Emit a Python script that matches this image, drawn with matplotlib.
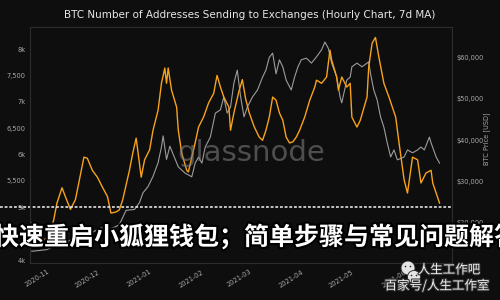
import matplotlib
matplotlib.use('Agg')
import matplotlib.pyplot as plt
import matplotlib.dates as mdates
import matplotlib.patheffects as pe
from matplotlib.patches import Ellipse
from matplotlib.ticker import FuncFormatter, MultipleLocator
import pandas as pd

# addresses sending to exchanges (7d MA)
addr_dates = ['2020-10-23', '2020-10-27', '2020-10-30', '2020-11-02', '2020-11-05', '2020-11-07',
              '2020-11-10', '2020-11-12', '2020-11-15', '2020-11-18', '2020-11-23', '2020-11-25',
              '2020-11-28', '2020-12-01', '2020-12-04', '2020-12-07', '2020-12-09', '2020-12-12',
              '2020-12-14', '2020-12-16', '2020-12-20', '2020-12-22', '2020-12-24', '2020-12-27',
              '2020-12-29', '2021-01-01', '2021-01-03', '2021-01-06', '2021-01-08', '2021-01-10',
              '2021-01-11', '2021-01-12', '2021-01-14', '2021-01-17', '2021-01-18', '2021-01-20',
              '2021-01-23', '2021-01-24', '2021-01-26', '2021-01-28', '2021-01-30', '2021-02-02',
              '2021-02-05', '2021-02-08', '2021-02-10', '2021-02-12', '2021-02-14', '2021-02-17',
              '2021-02-18', '2021-02-20', '2021-02-23', '2021-02-25', '2021-02-27', '2021-03-01',
              '2021-03-04', '2021-03-07', '2021-03-09', '2021-03-11', '2021-03-13', '2021-03-15',
              '2021-03-17', '2021-03-19', '2021-03-21', '2021-03-23', '2021-03-25', '2021-03-27',
              '2021-03-29', '2021-03-31', '2021-04-03', '2021-04-06', '2021-04-09', '2021-04-10',
              '2021-04-13', '2021-04-16', '2021-04-18', '2021-04-19', '2021-04-22', '2021-04-23',
              '2021-04-25', '2021-04-28', '2021-04-30', '2021-05-01', '2021-05-04', '2021-05-06',
              '2021-05-10', '2021-05-11', '2021-05-13', '2021-05-15', '2021-05-17', '2021-05-20',
              '2021-05-23', '2021-05-27', '2021-05-29', '2021-06-01', '2021-06-03', '2021-06-06',
              '2021-06-09', '2021-06-11', '2021-06-14', '2021-06-17', '2021-06-18', '2021-06-20',
              '2021-06-22']
addr_values = [4700, 4620, 4380, 4420, 4750, 5080,
               5370, 5200, 4960, 5150, 5950, 5930,
               5700, 5570, 5380, 5200, 4890, 4910,
               4950, 5140, 5700, 6030, 6310, 5570,
               5900, 6090, 6460, 6840, 7350, 7640,
               7350, 7640, 7220, 6900, 6460, 6030,
               5700, 5670, 5950, 6220, 6520, 6710,
               6980, 7160, 7500, 7280, 7090, 6900,
               6460, 6790, 7200, 7420, 7050, 6800,
               6530, 6330, 6270, 6460, 6710, 7090,
               7030, 6790, 6650, 6330, 6220, 6240,
               6330, 6460, 6710, 7030, 7280, 7410,
               7350, 7470, 7980, 7790, 7470, 7220,
               7470, 7280, 7350, 6710, 6520, 6650,
               7090, 7660, 8110, 8220, 7850, 7350,
               7090, 6710, 6220, 5520, 5270, 5950,
               5900, 5460, 5650, 5700, 5460, 5270,
               5080]

# BTC price (USD)
price_dates = ['2020-10-23', '2020-10-28', '2020-11-01', '2020-11-07', '2020-11-14', '2020-11-19',
               '2020-11-24', '2020-11-27', '2020-12-03', '2020-12-09', '2020-12-14', '2020-12-18',
               '2020-12-23', '2020-12-26', '2020-12-28', '2020-12-31', '2021-01-03', '2021-01-06',
               '2021-01-08', '2021-01-09', '2021-01-11', '2021-01-13', '2021-01-15', '2021-01-18',
               '2021-01-22', '2021-01-26', '2021-01-28', '2021-01-30', '2021-02-01', '2021-02-03',
               '2021-02-06', '2021-02-09', '2021-02-12', '2021-02-14', '2021-02-16', '2021-02-18',
               '2021-02-20', '2021-02-22', '2021-02-24', '2021-02-26', '2021-02-28', '2021-03-03',
               '2021-03-06', '2021-03-09', '2021-03-11', '2021-03-13', '2021-03-15', '2021-03-17',
               '2021-03-19', '2021-03-21', '2021-03-23', '2021-03-26', '2021-03-28', '2021-03-30',
               '2021-04-01', '2021-04-04', '2021-04-07', '2021-04-10', '2021-04-13', '2021-04-15',
               '2021-04-17', '2021-04-19', '2021-04-22', '2021-04-24', '2021-04-25', '2021-04-28',
               '2021-04-30', '2021-05-01', '2021-05-04', '2021-05-07', '2021-05-10', '2021-05-11',
               '2021-05-12', '2021-05-14', '2021-05-16', '2021-05-18', '2021-05-20', '2021-05-22',
               '2021-05-24', '2021-05-26', '2021-05-28', '2021-06-01', '2021-06-03', '2021-06-06',
               '2021-06-09', '2021-06-11', '2021-06-13', '2021-06-16', '2021-06-17', '2021-06-20',
               '2021-06-22']
price_values = [13100, 13300, 13500, 14600, 15600, 16800,
                18400, 17500, 18700, 18500, 19500, 23000,
                23200, 24900, 27200, 28700, 31200, 34500,
                38300, 41000, 35300, 38500, 36500, 33500,
                32000, 31100, 34400, 35900, 34400, 38300,
                40700, 46500, 47300, 50400, 46500, 48000,
                53800, 56900, 50400, 45600, 48000, 50400,
                52100, 55200, 56900, 60000, 61000, 56000,
                59400, 57700, 54500, 52100, 55200, 57700,
                59400, 59800, 58600, 60100, 61800, 63700,
                62200, 58600, 55200, 50400, 49000, 54500,
                55200, 57700, 58600, 57700, 58600, 58900,
                56200, 52100, 49700, 45600, 43100, 39300,
                35900, 37600, 35200, 35900, 37600, 36900,
                37600, 38300, 37600, 40700, 39300, 35900,
                34400]

title = 'BTC Number of Addresses Sending to Exchanges (Hourly Chart, 7d MA)'
overlay = '快速重启小狐狸钱包；简单步骤与常见问题解答'
threshold = 5000

BG = '#0e0e0e'
ORANGE = '#f7a21b'
GREY = '#9c9c9c'
TICK = '#a8a8a8'
CJK = ['Noto Sans CJK SC', 'DejaVu Sans']

fig = plt.figure(figsize=(5, 3), dpi=100, facecolor=BG)
ax = fig.add_axes([0.06, 0.1233, 0.844, 0.7867])
ax2 = ax.twinx()
ax.set_zorder(ax2.get_zorder() + 1)
ax.patch.set_visible(False)
ax2.set_facecolor(BG)

ax2.plot(pd.to_datetime(price_dates), price_values, color=GREY, lw=0.8)
ax.plot(pd.to_datetime(addr_dates), addr_values, color=ORANGE, lw=1.0)

ax.set_xlim(pd.Timestamp('2020-10-22'), pd.Timestamp('2021-06-29 10:00'))
ax.set_ylim(3943, 8418)
ax2.set_ylim(10250, 67330)

ax.yaxis.set_major_locator(MultipleLocator(500))
ax.yaxis.set_major_formatter(FuncFormatter(
    lambda v, p: f'{v/1000:.0f}k' if v % 1000 == 0 else f'{v:,.0f}'))
ax2.yaxis.set_major_locator(MultipleLocator(10000))
ax2.yaxis.set_major_formatter(FuncFormatter(lambda v, p: f'${v:,.0f}'))
ax.xaxis.set_major_locator(mdates.MonthLocator())
ax.xaxis.set_major_formatter(mdates.DateFormatter('%Y-%m'))

for a in (ax, ax2):
    a.tick_params(length=0, colors=TICK, labelsize=4.8, pad=3)
    for s in a.spines.values():
        s.set_color('#2c2c2c')
        s.set_linewidth(0.8)
ax.tick_params(axis='x', pad=4)
for lab in ax.get_xticklabels():
    lab.set_rotation(32)
    lab.set_ha('right')
    lab.set_rotation_mode('anchor')

# dashed reference line at 5k
ax.plot([-30 / 422, 1], [threshold, threshold], transform=ax.get_yaxis_transform(),
        clip_on=False, color='#e2e2e2', lw=1.2, dashes=(1.7, 1.1))

fig.text(0.5, 1 - 15 / 300, title, ha='center', va='center', color='#e6e6e6', fontsize=7.5)
fig.text(487 / 500, 1 - 139 / 300, 'BTC Price [USD]', rotation=90, ha='center', va='center',
         color=TICK, fontsize=4.8)

fig.text(251 / 500, 1 - 153 / 300, 'glassnode', ha='center', va='center', fontsize=21,
         color='#7a7a7a', alpha=0.6, zorder=10)

fig.text(-6 / 500, 1 - 237 / 300, overlay, ha='left', va='center', fontsize=18,
         family=CJK, weight='bold', color='white', zorder=20,
         path_effects=[pe.withStroke(linewidth=3, foreground='black')])

# bottom-right watermark
for cx, cy, r in [(408, 268, 7), (414, 277, 6.5)]:
    fig.add_artist(Ellipse((cx / 500, 1 - cy / 300), 2 * r / 500, 2 * r / 300,
                           facecolor='#e4e4e4', edgecolor='#222222', lw=0.6, zorder=21))
    for dx in (-2.5, 2.5):
        fig.add_artist(Ellipse(((cx + dx) / 500, 1 - (cy - 1.5) / 300), 1.6 / 500, 1.6 / 300,
                               facecolor='#222222', edgecolor='none', zorder=22))
wm_fx = [pe.withStroke(linewidth=1.5, foreground='#333333')]
fig.text(449 / 500, 1 - 270 / 300, '人生工作吧', ha='center', va='center', fontsize=9,
         family=CJK, color='#f0f0f0', zorder=22, path_effects=wm_fx)
fig.text(437 / 500, 1 - 286 / 300, '百家号/人生工作室', ha='center', va='center', fontsize=9,
         family=CJK, color='#f0f0f0', zorder=22, path_effects=wm_fx)

fig.savefig('out.png', dpi=100, facecolor=BG)
